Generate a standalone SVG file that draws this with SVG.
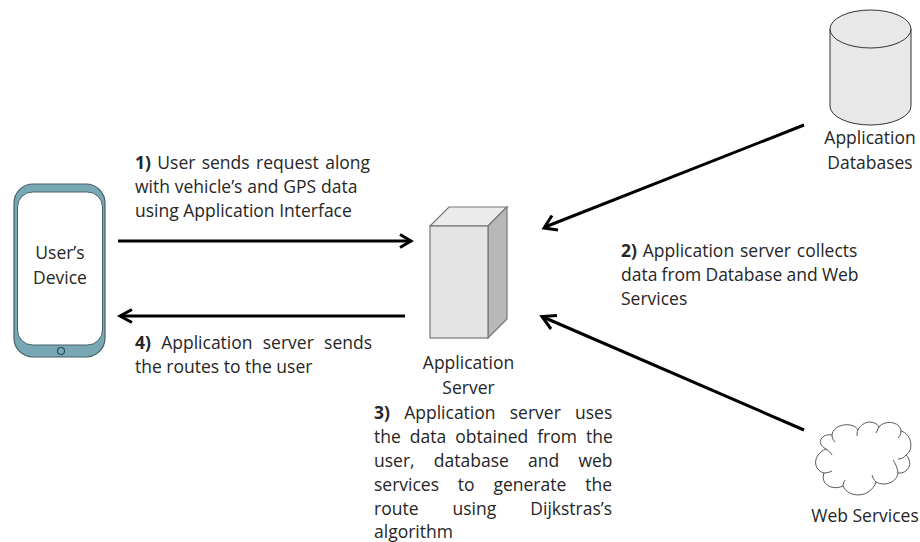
<svg xmlns="http://www.w3.org/2000/svg" width="920" height="542" viewBox="0 0 920 542">
<style>
text{font-family:"Open Sans","Noto Sans","DejaVu Sans",sans-serif;font-size:17.500px;fill:#262626}
.b{font-weight:700}
.c{text-anchor:middle}
.conn{fill:none;stroke:#000;stroke-width:3}
</style>
<rect width="920" height="542" fill="#fff"/>
<g id="connectors">
<path class="conn" d="M118 241H410"/><path class="conn" d="M400 234.500L411 241L400 247.500"/>
<path class="conn" d="M405 316H121"/><path class="conn" d="M132 309.500L120 316L132 322.500"/>
<path class="conn" d="M804 125L545 227"/><path class="conn" d="M552 215.500L544 228L558 230"/>
<path class="conn" d="M804 430L543 317"/><path class="conn" d="M557 315.500L542 316.500L551 329"/>
</g>
<g id="users-device">
<rect x="14" y="184" width="91" height="173" rx="19" fill="#78a8b4" stroke="#44606a" stroke-width="1.200"/>
<rect x="17.500" y="192" width="85" height="153" rx="15" fill="#fff" stroke="#44606a" stroke-width="1"/>
<circle cx="61" cy="351" r="3.500" fill="#78a8b4" stroke="#2f4850" stroke-width="1.200"/>
<text class="c" x="60" y="259">User’s</text><text class="c" x="60" y="284">Device</text>
</g>
<g id="application-server">
<path d="M430 226L449 207H507L488 226Z" fill="#ebebeb" stroke="#777" stroke-width="1.200"/>
<path d="M488 226L507 207V319L488 338Z" fill="#b8b8b8" stroke="#777" stroke-width="1.200"/>
<rect x="430" y="226" width="58" height="112" fill="#e4e4e4" stroke="#777" stroke-width="1.200"/>
<text class="c" x="468.500" y="369">Application</text><text class="c" x="468.500" y="394">Server</text>
</g>
<g id="application-databases">
<path d="M830 29V106A40.500 19 0 0 0 911 106V29Z" fill="#e8e8e8" stroke="#333" stroke-width="1"/>
<ellipse cx="870.500" cy="29" rx="40.500" ry="19" fill="#e8e8e8" stroke="#333" stroke-width="1"/>
<text class="c" x="870" y="144">Application</text><text class="c" x="870" y="169">Databases</text>
</g>
<g id="web-services">
<path d="M826 449C815 443 822 433 832 435C833 424 853 421 858 430C863 420 875 420 879 427C884 420 900 421 901 431C912 434 914 450 906 455C914 463 908 474 898 473C897 482 885 487 876 482C870 499 848 498 843 486C832 491 820 484 824 473C813 470 812 455 826 449Z" fill="#fff" stroke="#555" stroke-width="1"/>
<path d="M826 449C829 451 831 453 832 455M832 435C832 438 833 440 835 442M858 430C857 432 857 434 857 436M879 427C878 429 877 431 876 433M901 431C901 434 900 436 898 438M906 455C904 458 901 459 898 459M898 473C897 466 895 463 893 460M876 482C874 480 873 478 872 475M843 486C843 484 844 482 845 480M824 473C827 473 830 472 832 471" fill="none" stroke="#555" stroke-width="1"/>
<text class="c" x="865" y="522">Web Services</text>
</g>
<g id="label-1">
<text x="135" y="169" word-spacing="1.800"><tspan class="b">1)</tspan> User sends request along</text>
<text x="135" y="193" word-spacing="0.300">with vehicle’s and GPS data</text>
<text x="135" y="217">using Application Interface</text>
</g>
<g id="label-2">
<text x="621" y="257" word-spacing="1.300"><tspan class="b">2)</tspan> Application server collects</text>
<text x="621" y="281" word-spacing="-0.400">data from Database and Web</text>
<text x="621" y="305">Services</text>
</g>
<g id="label-3">
<text x="374" y="419" word-spacing="9.700"><tspan class="b">3)</tspan> Application server uses</text>
<text x="374" y="443" word-spacing="4.500">the data obtained from the</text>
<text x="374" y="467" word-spacing="14.700">user, database and web</text>
<text x="374" y="491" word-spacing="14.300">services to generate the</text>
<text x="374" y="515" word-spacing="29.500">route using Dijkstras’s</text>
<text x="374" y="537.500">algorithm</text>
</g>
<g id="label-4">
<text x="135" y="349" word-spacing="5.700"><tspan class="b">4)</tspan> Application server sends</text>
<text x="135" y="373">the routes to the user</text>
</g>
</svg>
